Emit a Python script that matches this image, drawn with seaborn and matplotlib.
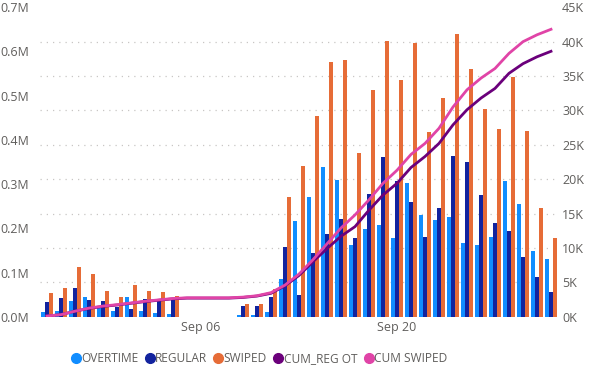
import matplotlib
matplotlib.use('Agg')
import matplotlib.pyplot as plt
import seaborn as sns
import pandas as pd
import numpy as np
from matplotlib.lines import Line2D
from matplotlib.ticker import FuncFormatter, MultipleLocator

# Daily dates (Aug 26 - Oct 01)
days = pd.date_range('2020-08-26', '2020-10-01', freq='D')
day_labels = [d.strftime('%b %d') for d in days]
nan = np.nan

# Bar series, in thousands (no data Sep 05 - Sep 08)
overtime = [11, 13, 35, 45, 20, 13, 45, 13, 8, 6,
            nan, nan, nan, nan,
            3, 3, 10, 86, 216, 271, 338, 309, 162, 198, 207, 177,
            302, 231, 219, 225, 166, 162, 181, 307, 256, 149, 130]
regular = [34, 43, 65, 38, 35, 21, 17, 41, 37, 43,
           nan, nan, nan, nan,
           25, 25, 45, 158, 50, 143, 187, 220, 177, 278, 362, 307,
           259, 181, 247, 364, 349, 275, 213, 194, 134, 90, 57]
swiped = [53, 64, 113, 96, 59, 45, 72, 58, 55, 47,
          nan, nan, nan, nan,
          28, 28, 63, 271, 342, 455, 577, 581, 371, 513, 624, 535,
          620, 418, 495, 639, 560, 471, 425, 543, 421, 245, 179]

# Cumulative lines, in thousands (right axis)
cum_reg_ot = [0.1, 0.3, 0.8, 1.2, 1.5, 1.7, 1.95, 2.2, 2.4, 2.6,
              2.7, 2.7, 2.7, 2.7,
              2.8, 3.0, 3.4, 4.5, 6.0, 8.0, 9.9, 11.7, 13.1, 15.5, 17.7, 19.4,
              21.7, 23.3, 25.2, 27.9, 30.1, 31.8, 33.2, 35.4, 36.8, 37.8, 38.6]
cum_swiped = [0.1, 0.3, 0.8, 1.25, 1.55, 1.75, 2.0, 2.25, 2.45, 2.65,
              2.75, 2.75, 2.75, 2.75,
              2.85, 3.05, 3.5, 4.6, 6.2, 8.3, 10.6, 12.9, 14.8, 17.0, 19.4, 21.3,
              23.6, 25.2, 27.4, 30.5, 33.0, 34.7, 36.1, 38.3, 40.0, 41.0, 41.8]

series_names = ['OVERTIME', 'REGULAR', 'SWIPED']
bar_colors = ['#118DFF', '#12239E', '#E66C37']
line_colors = ['#6B007B', '#E044A7']
text_gray = '#605E5C'

df = pd.DataFrame({'day': day_labels, 'OVERTIME': overtime,
                   'REGULAR': regular, 'SWIPED': swiped})
df_long = df.melt(id_vars='day', var_name='series', value_name='value')
df_long['value'] = df_long['value'] * 1000
df_long = df_long.dropna(subset=['value'])

plt.rcParams['font.family'] = ['Open Sans', 'DejaVu Sans']

fig = plt.figure(figsize=(5.91, 3.68), dpi=100)
ax = fig.add_axes([40 / 591, 51.3 / 368, 518 / 591, 309.4 / 368])

sns.barplot(data=df_long, x='day', y='value', hue='series', order=day_labels,
            hue_order=series_names, palette=bar_colors, errorbar=None,
            saturation=1, width=0.8, legend=False, ax=ax)

ax.set_xlim(-0.5, len(days) - 0.5)
ax.set_ylim(0, 700000)
ax.yaxis.set_major_locator(MultipleLocator(100000))
ax.yaxis.set_major_formatter(FuncFormatter(lambda v, p: f'{v / 1e6:.1f}M'))
# dotted gridlines follow the right axis (every 5K)
ax.set_yticks(np.arange(1, 10) * 700000 / 9, minor=True)
ax.grid(which='minor', axis='y', linestyle=(0, (1, 4)), color='#C8C6C4', linewidth=0.9)
ax.grid(which='major', visible=False)
ax.set_axisbelow(True)

ax.set_xticks([day_labels.index('Sep 06'), day_labels.index('Sep 20')])
ax.set_xticklabels(['Sep 06', 'Sep 20'])
ax.set_xlabel('')
ax.set_ylabel('')
ax.tick_params(axis='both', which='both', length=0, labelsize=9, labelcolor=text_gray)
ax.tick_params(axis='y', pad=8)
ax.tick_params(axis='x', pad=3)

ax2 = ax.twinx()
x_pos = np.arange(len(days))
sns.lineplot(x=x_pos, y=np.array(cum_reg_ot) * 1000, ax=ax2,
             color=line_colors[0], linewidth=2.0)
sns.lineplot(x=x_pos, y=np.array(cum_swiped) * 1000, ax=ax2,
             color=line_colors[1], linewidth=2.0)
ax2.set_ylim(0, 45000)
ax2.yaxis.set_major_locator(MultipleLocator(5000))
ax2.yaxis.set_major_formatter(FuncFormatter(lambda v, p: f'{int(v / 1000)}K'))
ax2.tick_params(axis='y', length=0, labelsize=9, labelcolor=text_gray, pad=3)
ax2.set_ylabel('')

for a in (ax, ax2):
    for s in a.spines.values():
        s.set_visible(False)

handles = [Line2D([], [], marker='o', linestyle='', color=c, markersize=7)
           for c in bar_colors + line_colors]
labels = series_names + ['CUM_REG OT', 'CUM SWIPED']
fig.legend(handles, labels, loc='center', bbox_to_anchor=(259 / 591, 9.5 / 368),
           ncol=5, frameon=False, fontsize=8.6, labelcolor=text_gray,
           handletextpad=0.05, columnspacing=0.55, handlelength=0.8,
           borderaxespad=0)

fig.savefig('out.png', dpi=100)
